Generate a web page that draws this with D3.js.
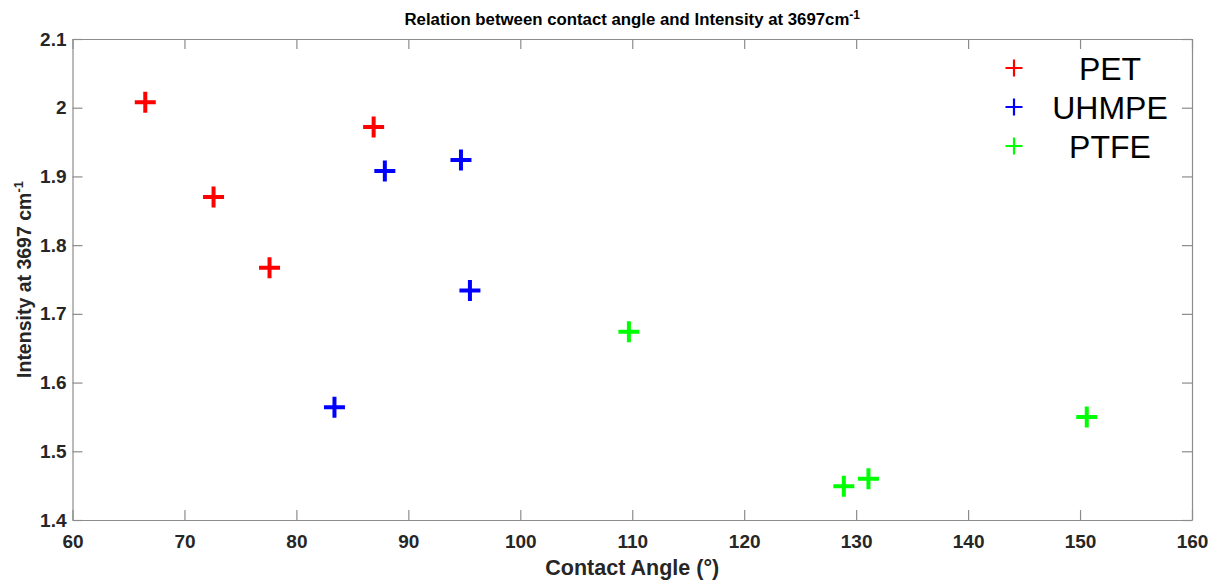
<!DOCTYPE html>
<html>
<head>
<meta charset="utf-8">
<script src="https://cdn.jsdelivr.net/npm/d3@7"></script>
<style>
  body { margin: 0; background: #fff; }
  svg text { font-family: "Liberation Sans", Arial, sans-serif; }
</style>
</head>
<body>
<div id="chart"></div>
<script>
// data
const seriesNames = ["PET", "UHMPE", "PTFE"];
const seriesColors = ["#ff0000", "#0000ff", "#00ff00"];
const petAngle = [66.5, 72.6, 77.6, 86.9];
const petIntensity = [2.008, 1.870, 1.767, 1.972];
const uhmpeAngle = [83.4, 87.9, 94.7, 95.5];
const uhmpeIntensity = [1.564, 1.908, 1.924, 1.734];
const ptfeAngle = [109.7, 128.9, 131.1, 150.6];
const ptfeIntensity = [1.674, 1.449, 1.460, 1.550];
const xTicks = [60, 70, 80, 90, 100, 110, 120, 130, 140, 150, 160];
const yTicks = [1.4, 1.5, 1.6, 1.7, 1.8, 1.9, 2.0, 2.1];

const series = [
    { name: seriesNames[0], color: seriesColors[0], xs: petAngle, ys: petIntensity },
    { name: seriesNames[1], color: seriesColors[1], xs: uhmpeAngle, ys: uhmpeIntensity },
    { name: seriesNames[2], color: seriesColors[2], xs: ptfeAngle, ys: ptfeIntensity }
];

let width = 1220, height = 583;
let margin = { top: 39, right: 28, bottom: 63, left: 72.5 };
let innerW = width - margin.left - margin.right;
let innerH = height - margin.top - margin.bottom;

let svg = d3.select("#chart").append("svg")
    .attr("width", width)
    .attr("height", height);

let g = svg.append("g")
    .attr("transform", `translate(${margin.left},${margin.top})`);

let x = d3.scaleLinear().domain([60, 160]).range([0, innerW]);
let y = d3.scaleLinear().domain([1.4, 2.1]).range([innerH, 0]);

const axisColor = "#8c8c8c";
const labelColor = "#262626";

// axes with inward ticks (MATLAB style), box on all four sides
g.append("g").attr("transform", `translate(0,${innerH})`)
    .call(d3.axisBottom(x).tickValues(xTicks).tickSizeInner(-10).tickSizeOuter(0).tickPadding(15));
g.append("g")
    .call(d3.axisLeft(y).tickValues(yTicks).tickSizeInner(-10).tickSizeOuter(0).tickPadding(6)
        .tickFormat(d => d === 2 ? "2" : d3.format(".1f")(d)));
g.append("g")
    .call(d3.axisTop(x).tickValues(xTicks).tickSizeInner(-10).tickSizeOuter(0).tickFormat(""));
g.append("g").attr("transform", `translate(${innerW},0)`)
    .call(d3.axisRight(y).tickValues(yTicks).tickSizeInner(-10).tickSizeOuter(0).tickFormat(""));

g.selectAll(".domain, .tick line").attr("stroke", axisColor).attr("stroke-width", 1.2);
g.selectAll(".tick text")
    .attr("fill", labelColor)
    .attr("font-family", null)
    .style("font-size", "19px")
    .style("font-weight", "bold");

// plus markers
function plusPath(size) {
    let h = size / 2;
    return `M${-h},0H${h}M0,${-h}V${h}`;
}

series.forEach(s => {
    let pts = s.xs.map((v, i) => ({ a: v, b: s.ys[i] }));
    g.selectAll(null)
        .data(pts)
        .enter()
        .append("path")
        .attr("d", plusPath(21))
        .attr("transform", d => `translate(${x(d.a)},${y(d.b)})`)
        .attr("stroke", s.color)
        .attr("stroke-width", 4)
        .attr("fill", "none");
});

// legend
let legend = g.append("g");
series.forEach((s, i) => {
    let ly = 68 - margin.top + i * 39;
    legend.append("path")
        .attr("d", plusPath(17))
        .attr("transform", `translate(${1014 - margin.left},${ly})`)
        .attr("stroke", s.color)
        .attr("stroke-width", 2.2)
        .attr("fill", "none");
    legend.append("text")
        .attr("x", 1110 - margin.left)
        .attr("y", ly + 11.5)
        .attr("text-anchor", "middle")
        .style("font-size", "32px")
        .attr("fill", "#000")
        .text(s.name);
});

// title
let title = svg.append("text")
    .attr("x", margin.left + innerW / 2)
    .attr("y", 25)
    .attr("text-anchor", "middle")
    .style("font-size", "16.8px")
    .style("font-weight", "bold")
    .attr("fill", "#000")
    .text("Relation between contact angle and Intensity at 3697cm");
title.append("tspan")
    .attr("dy", -6)
    .style("font-size", "12px")
    .text("-1");

// axis labels
svg.append("text")
    .attr("x", margin.left + innerW / 2)
    .attr("y", 575)
    .attr("text-anchor", "middle")
    .style("font-size", "21.5px")
    .style("font-weight", "bold")
    .attr("fill", labelColor)
    .text("Contact Angle (°)");

let yl = svg.append("text")
    .attr("transform", `translate(31,${margin.top + innerH / 2}) rotate(-90)`)
    .attr("text-anchor", "middle")
    .style("font-size", "19.5px")
    .style("font-weight", "bold")
    .attr("fill", labelColor)
    .text("Intensity at 3697 cm");
yl.append("tspan")
    .attr("dy", -8)
    .style("font-size", "13px")
    .text("-1");
</script>
</body>
</html>
